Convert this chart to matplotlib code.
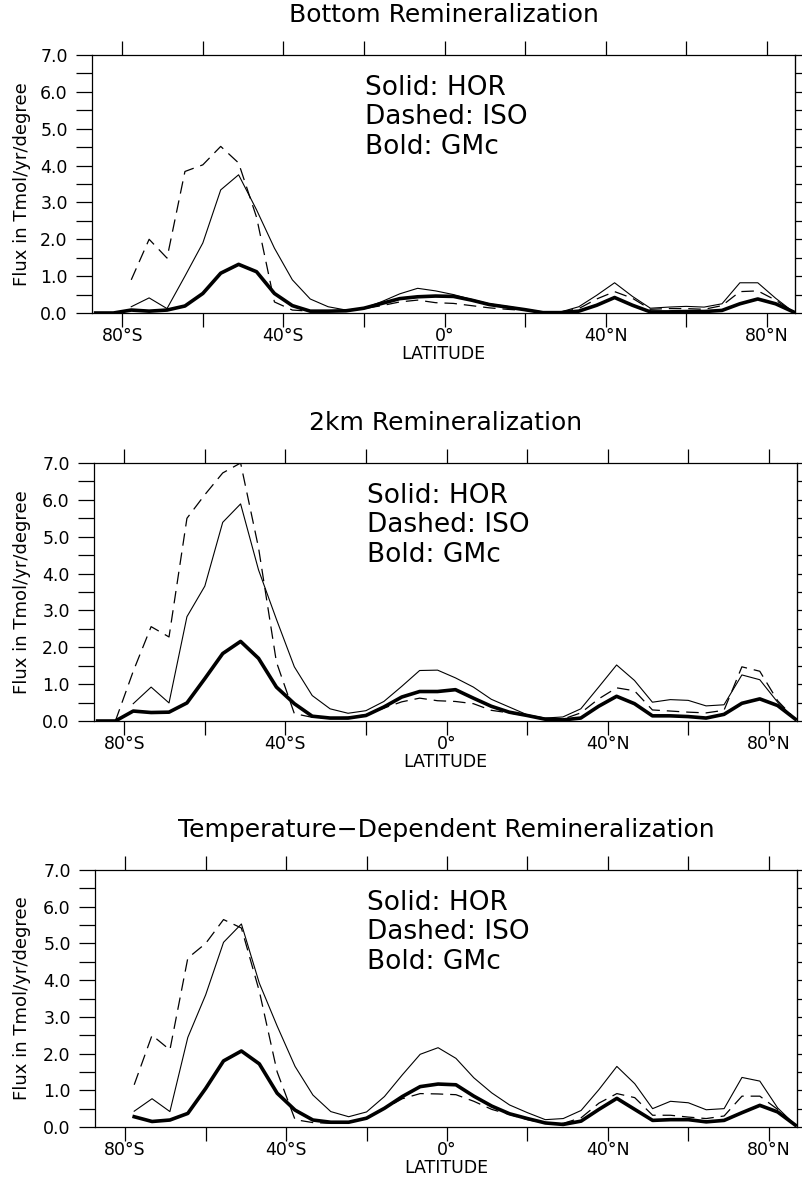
import numpy as np
import matplotlib
matplotlib.use('Agg')
import matplotlib.pyplot as plt
from matplotlib.ticker import MultipleLocator, FormatStrFormatter

nan = np.nan

# R15 gaussian latitudes
LAT = [-86.60, -82.19, -77.76, -73.32, -68.88, -64.43, -59.99, -55.55, -51.11, -46.66,
       -42.22, -37.77, -33.33, -28.89, -24.44, -20.00, -15.55, -11.11, -6.67, -2.22,
       2.22, 6.67, 11.11, 15.55, 20.00, 24.44, 28.89, 33.33, 37.77, 42.22,
       46.66, 51.11, 55.55, 59.99, 64.43, 68.88, 73.32, 77.76, 82.19, 86.60]

LAT_TICKS = [-80, -40, 0, 40, 80]
LAT_LABELS = ['80°S', '40°S', '0°', '40°N', '80°N']

TITLES = ['Bottom Remineralization', '2km Remineralization',
          'Temperature\u2212Dependent Remineralization']
KEY_LINES = ['Solid: HOR', 'Dashed: ISO', 'Bold: GMc']

# bottom remineralization
HOR_BOT = [nan, nan, 0.17, 0.41, 0.12, 1.00, 1.90, 3.34, 3.75, 2.80,
           1.76, 0.90, 0.38, 0.17, 0.08, 0.13, 0.31, 0.52, 0.67, 0.60,
           0.50, 0.37, 0.25, 0.18, 0.10, 0.03, 0.03, 0.17, 0.48, 0.82,
           0.45, 0.13, 0.16, 0.18, 0.16, 0.25, 0.82, 0.82, 0.40, 0.03]
ISO_BOT = [nan, nan, 0.90, 2.00, 1.49, 3.84, 4.02, 4.52, 4.07, 2.60,
           0.30, 0.08, 0.05, 0.05, 0.06, 0.12, 0.20, 0.30, 0.35, 0.28,
           0.26, 0.20, 0.14, 0.10, 0.07, 0.02, 0.03, 0.12, 0.38, 0.58,
           0.40, 0.10, 0.12, 0.12, 0.10, 0.20, 0.58, 0.60, 0.35, 0.03]
GMC_BOT = [0.00, 0.00, 0.08, 0.05, 0.08, 0.19, 0.53, 1.08, 1.32, 1.12,
           0.53, 0.20, 0.05, 0.05, 0.06, 0.13, 0.26, 0.39, 0.44, 0.46,
           0.45, 0.35, 0.23, 0.16, 0.09, 0.01, 0.01, 0.05, 0.21, 0.42,
           0.21, 0.03, 0.03, 0.04, 0.04, 0.07, 0.25, 0.38, 0.25, 0.03]

# 2km remineralization
HOR_2KM = [nan, nan, 0.47, 0.92, 0.49, 2.83, 3.66, 5.39, 5.89, 4.10,
           2.76, 1.47, 0.69, 0.33, 0.21, 0.28, 0.53, 0.94, 1.37, 1.38,
           1.17, 0.92, 0.59, 0.38, 0.17, 0.08, 0.11, 0.33, 0.92, 1.52,
           1.10, 0.51, 0.58, 0.56, 0.41, 0.44, 1.25, 1.12, 0.51, 0.05]
ISO_2KM = [nan, 0.00, 1.35, 2.56, 2.28, 5.50, 6.14, 6.73, 7.00, 4.70,
           1.60, 0.20, 0.10, 0.08, 0.10, 0.17, 0.35, 0.52, 0.62, 0.55,
           0.53, 0.47, 0.29, 0.22, 0.14, 0.06, 0.05, 0.22, 0.60, 0.90,
           0.82, 0.30, 0.27, 0.24, 0.22, 0.29, 1.47, 1.35, 0.55, 0.05]
GMC_2KM = [0.00, 0.00, 0.27, 0.23, 0.24, 0.49, 1.15, 1.83, 2.16, 1.70,
           0.92, 0.47, 0.13, 0.08, 0.08, 0.15, 0.38, 0.65, 0.80, 0.80,
           0.85, 0.62, 0.40, 0.24, 0.15, 0.05, 0.03, 0.08, 0.40, 0.67,
           0.47, 0.14, 0.14, 0.12, 0.08, 0.18, 0.48, 0.60, 0.42, 0.05]

# temperature-dependent remineralization
HOR_TEMP = [nan, nan, 0.43, 0.77, 0.42, 2.44, 3.60, 5.03, 5.53, 3.92,
            2.75, 1.65, 0.87, 0.42, 0.28, 0.41, 0.83, 1.42, 1.98, 2.16,
            1.87, 1.34, 0.93, 0.60, 0.39, 0.20, 0.23, 0.45, 1.02, 1.65,
            1.18, 0.50, 0.70, 0.66, 0.47, 0.50, 1.35, 1.25, 0.52, 0.05]
ISO_TEMP = [nan, nan, 1.15, 2.50, 2.10, 4.60, 5.00, 5.65, 5.42, 3.70,
            1.50, 0.20, 0.12, 0.10, 0.13, 0.25, 0.50, 0.77, 0.91, 0.90,
            0.88, 0.70, 0.48, 0.34, 0.20, 0.10, 0.10, 0.25, 0.65, 0.91,
            0.80, 0.32, 0.32, 0.27, 0.23, 0.30, 0.84, 0.84, 0.48, 0.05]
GMC_TEMP = [nan, nan, 0.28, 0.15, 0.19, 0.37, 1.05, 1.80, 2.07, 1.72,
            0.92, 0.46, 0.19, 0.13, 0.13, 0.24, 0.51, 0.83, 1.10, 1.17,
            1.15, 0.84, 0.57, 0.36, 0.23, 0.11, 0.07, 0.16, 0.48, 0.78,
            0.48, 0.18, 0.20, 0.20, 0.14, 0.18, 0.39, 0.59, 0.41, 0.05]

PANELS = [
    (TITLES[0], HOR_BOT, ISO_BOT, GMC_BOT),
    (TITLES[1], HOR_2KM, ISO_2KM, GMC_2KM),
    (TITLES[2], HOR_TEMP, ISO_TEMP, GMC_TEMP),
]

W, H = 802, 1194
# axes boxes in pixels: left, top, right, bottom
BOXES = [(92, 55, 795, 313), (94, 463, 797, 721), (95, 870, 797, 1127)]

plt.rcParams['font.family'] = ['DejaVu Sans']
plt.rcParams['lines.scale_dashes'] = False


def add_panel(fig, box, title, hor, iso, gmc):
    left, top, right, bottom = box
    ax = fig.add_axes([left / W, 1 - bottom / H, (right - left) / W, (bottom - top) / H])
    w_px, h_px = right - left, bottom - top

    ax.plot(LAT, hor, color='black', lw=0.8)
    ax.plot(LAT, iso, color='black', lw=0.9, linestyle=(0, (9, 5)))
    ax.plot(LAT, gmc, color='black', lw=2.6, solid_joinstyle='round')

    ax.set_xlim(-87.5, 87.0)
    ax.set_ylim(0, 7)

    ax.set_xticks(LAT_TICKS)
    ax.set_xticklabels(LAT_LABELS)
    ax.xaxis.set_minor_locator(MultipleLocator(20))
    ax.yaxis.set_major_locator(MultipleLocator(1.0))
    ax.yaxis.set_minor_locator(MultipleLocator(0.5))
    ax.yaxis.set_major_formatter(FormatStrFormatter('%.1f'))

    ax.tick_params(axis='x', which='both', direction='out', length=10, width=0.9,
                   top=True, labeltop=False, pad=0, labelsize=12.5)
    ax.tick_params(axis='y', which='both', direction='out', length=11.5, width=0.9,
                   right=False, pad=6, labelsize=12.5)

    sec = ax.secondary_yaxis('right')
    sec.yaxis.set_major_locator(MultipleLocator(0.5))
    sec.tick_params(direction='out', length=5, width=0.9, labelright=False)
    for s in ax.spines.values():
        s.set_linewidth(0.9)

    ax.text(0.5, 1 + 40 / h_px, title, transform=ax.transAxes,
            ha='center', va='center', fontsize=18)
    ax.text(0.5, -41 / h_px, 'LATITUDE', transform=ax.transAxes,
            ha='center', va='center', fontsize=12.5)
    ax.text(-(left - 22) / w_px, 0.5, 'Flux in Tmol/yr/degree', transform=ax.transAxes,
            ha='center', va='center', rotation=90, fontsize=13)

    for k, yy in zip(KEY_LINES, [0.872, 0.760, 0.643]):
        ax.text(0.388, yy, k, transform=ax.transAxes, ha='left', va='center', fontsize=19)
    return ax


fig = plt.figure(figsize=(W / 100, H / 100), dpi=100)
for box, (title, hor, iso, gmc) in zip(BOXES, PANELS):
    add_panel(fig, box, title, hor, iso, gmc)

fig.savefig('out.png', dpi=100)
